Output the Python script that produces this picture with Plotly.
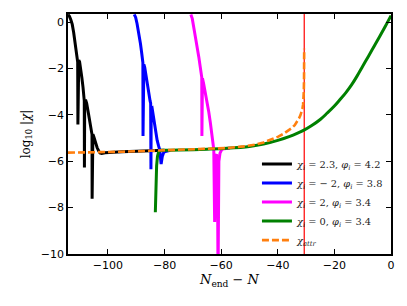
import plotly.graph_objects as go

# ---------------- data ----------------
black_x = [-114.1, -113.6, -113.1, -112.6, -112.1, -111.6, -111.2, -110.85, -110.68, -110.6, -110.5, -110.3,
           -110.0, -109.6, -109.2, -108.8, -108.45, -108.35, -108.3, -108.2, -107.9, -107.5, -107.0, -106.5,
           -106.0, -105.7, -105.62, -105.58, -105.5, -105.3, -104.9, -104.4, -103.8, -103.2, -102.8, -102.2,
           -101.0, -95.0, -85.0, -80.0]
black_y = [0.33, 0.25, 0.1, -0.1, -0.45, -0.85, -1.2, -1.5, -1.72, -4.41, -1.75, -1.64,
           -1.72, -2.0, -2.4, -2.8, -3.2, -3.4, -6.27, -3.42, -3.35, -3.5, -3.85, -4.2,
           -4.55, -4.78, -4.85, -7.62, -4.88, -4.84, -4.98, -5.2, -5.42, -5.57, -5.64, -5.66,
           -5.63, -5.59, -5.55, -5.53]

blue_x = [-90.7, -90.2, -89.7, -89.1, -88.5, -88.1, -87.8, -87.65, -87.6, -87.5, -87.3, -87.0, -86.6,
          -86.2, -85.6, -85.1, -84.9, -84.8, -84.7, -84.4, -84.0, -83.6, -83.2, -82.6, -82.1, -81.7,
          -81.2, -80.8, -80.3, -79.7, -78.0]
blue_y = [0.33, 0.2, -0.07, -0.45, -0.93, -1.3, -1.6, -1.75, -4.91, -1.85, -1.82, -1.95, -2.3,
          -2.64, -3.05, -3.4, -3.5, -6.34, -3.72, -3.70, -4.05, -4.4, -4.77, -5.1, -5.34, -5.51,
          -6.12, -5.8, -5.62, -5.58, -5.53]

magenta_x = [-70.7, -70.2, -69.7, -69.1, -68.5, -67.9, -67.4, -67.0, -66.85, -66.8, -66.7, -66.6, -66.2,
             -65.6, -65.0, -64.4, -63.8, -63.3, -62.9, -62.6, -62.3, -61.9, -61.6, -61.3, -61.1,
             -60.8, -60.4, -59.8, -59.0, -57.0]
magenta_y = [0.33, 0.15, -0.21, -0.6, -1.07, -1.5, -1.92, -2.25, -2.38, -4.91, -2.45, -2.42, -2.65,
             -3.0, -3.35, -3.85, -4.35, -4.8, -5.2, -5.5, -8.62, -5.75, -5.7, -6.5, -11.0,
             -6.0, -5.65, -5.5, -5.46, -5.44]

# green: start-up transient
green_start_x = [-83.25, -83.15, -83.0, -82.8, -82.5, -82.1, -81.5]
green_start_y = [-8.2, -7.5, -6.8, -6.2, -5.8, -5.6, -5.53]
# green: smooth growth towards the end of inflation
green_x = [-81.5, -75.0, -65.0, -58.0, -50.0, -45.0, -40.0, -36.0, -33.0, -30.6, -28.0, -25.0,
           -22.5, -20.0, -18.0, -16.0, -14.0, -12.0, -10.0, -8.0, -6.0, -4.0, -2.0, 0.0]
green_y = [-5.53, -5.52, -5.48, -5.44, -5.36, -5.26, -5.10, -4.94, -4.79, -4.65, -4.46, -4.20,
           -3.92, -3.62, -3.34, -3.05, -2.72, -2.33, -1.90, -1.48, -1.05, -0.62, -0.18, 0.28]

attr_x = [-114.1, -105.0, -95.0, -85.0, -75.0, -65.0, -58.0, -52.0, -48.0, -45.0, -42.0, -40.0, -38.0,
          -36.5, -35.0, -34.0, -33.2, -32.5, -32.0, -31.6, -31.3, -31.05, -30.9, -30.8, -30.72, -30.67]
attr_y = [-5.63, -5.62, -5.59, -5.55, -5.51, -5.47, -5.43, -5.36, -5.29, -5.19, -5.06, -4.95, -4.82,
          -4.70, -4.56, -4.44, -4.30, -4.15, -4.02, -3.87, -3.75, -3.55, -3.38, -3.0, -2.4, -1.15]

N_crit = -30.65

series_names = ["<i>χ<sub>i</sub></i> = 2.3, <i>φ<sub>i</sub></i> = 4.2",
                "<i>χ<sub>i</sub></i> = − 2, <i>φ<sub>i</sub></i> = 3.8",
                "<i>χ<sub>i</sub></i> = 2, <i>φ<sub>i</sub></i> = 3.4",
                "<i>χ<sub>i</sub></i> = 0, <i>φ<sub>i</sub></i> = 3.4",
                "<i>χ<sub>attr</sub></i>"]

x_ticks = [-100, -80, -60, -40, -20, 0]
y_ticks = [0, -2, -4, -6, -8, -10]

# ---------------- figure ----------------
fig = go.Figure()
serif = "DejaVu Serif"

def add(x, y, name, color, dash=None, width=3, shape="linear", legend=True, group=None):
    fig.add_trace(go.Scatter(x=x, y=y, mode="lines", name=name, showlegend=legend,
                             legendgroup=group, line_shape=shape,
                             line=dict(color=color, width=width, dash=dash)))

add(black_x, black_y, series_names[0], "black")
add(blue_x, blue_y, series_names[1], "#0000ff")
add(magenta_x, magenta_y, series_names[2], "#ff00ff")
add(green_start_x, green_start_y, series_names[3], "#008000", group="g")
add(green_x, green_y, series_names[3], "#008000", shape="spline", legend=False, group="g")
add(attr_x, attr_y, series_names[4], "#ff7f0e", dash="7px,3px", width=2.6)

fig.add_shape(type="line", xref="x", yref="paper", x0=N_crit, x1=N_crit, y0=0, y1=1,
              line=dict(color="red", width=1.2), layer="below")

axis_common = dict(showline=True, linecolor="black", linewidth=1.5, mirror="ticks",
                   ticks="inside", ticklen=5, tickwidth=1.2, tickcolor="black",
                   showgrid=False, zeroline=False,
                   tickfont=dict(family="DejaVu Sans", size=11, color="black"))

fig.update_xaxes(range=[-114.1, 0], tickvals=x_ticks,
                 title=dict(text="<i>N</i><sub>end</sub> − <i>N</i>",
                            font=dict(family=serif, size=13, color="black"), standoff=2),
                 **axis_common)
fig.update_yaxes(range=[-10, 0.35], tickvals=y_ticks,
                 title=dict(text="log<sub>10</sub> |<i>χ</i>|",
                            font=dict(family=serif, size=12, color="black"), standoff=8),
                 **axis_common)

# the page body adds an 8px offset; margins compensate so the plot area matches
fig.update_layout(
    width=407, height=306,
    margin=dict(l=60, r=24, t=4, b=60),
    paper_bgcolor="white", plot_bgcolor="white",
    showlegend=True,
    legend=dict(x=0.585, y=0.435, xanchor="left", yanchor="top",
                bgcolor="rgba(0,0,0,0)", borderwidth=0,
                font=dict(family=serif, size=9.8, color="#222"),
                itemwidth=30, tracegroupgap=0, traceorder="normal"),
)

fig.write_html("out.html")
